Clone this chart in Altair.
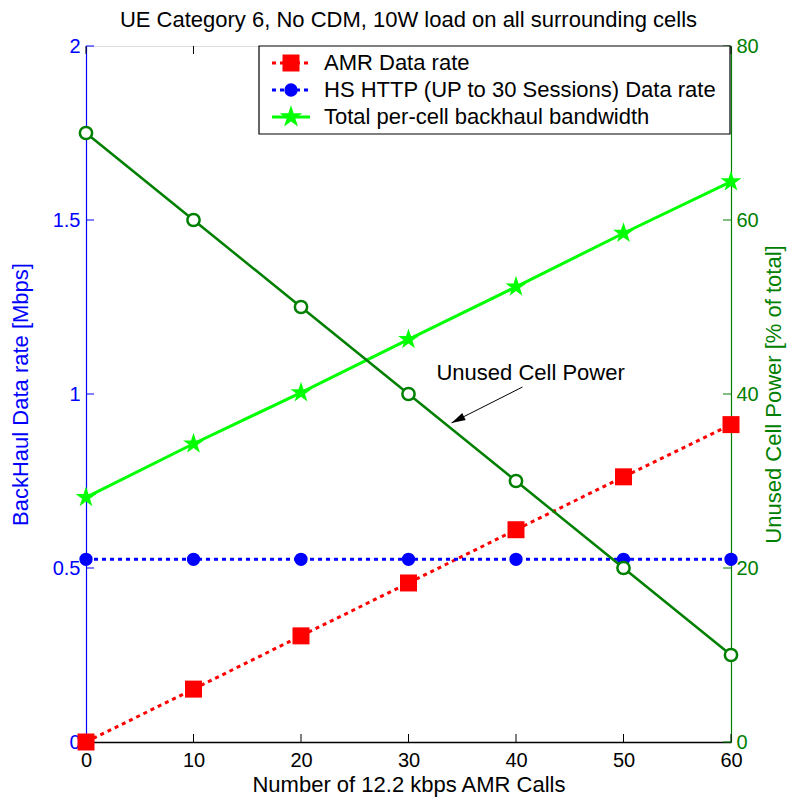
import altair as alt
import pandas as pd

# ---------------- data ----------------
calls = [0, 10, 20, 30, 40, 50, 60]
amr_rate = [0.0, 0.152, 0.305, 0.457, 0.610, 0.762, 0.912]
hs_http_rate = [0.525, 0.525, 0.525, 0.525, 0.525, 0.525, 0.525]
total_bw = [0.703, 0.857, 1.004, 1.157, 1.308, 1.462, 1.610]
unused_power = [70, 60, 50, 40, 30, 20, 10]

x_ticks = [0, 10, 20, 30, 40, 50, 60]
left_ticks = [0, 0.5, 1, 1.5, 2]
right_ticks = [0, 20, 40, 60, 80]

legend_labels = ["AMR Data rate",
                 "HS HTTP (UP to 30 Sessions) Data rate",
                 "Total per-cell backhaul bandwidth"]
title_text = "UE Category 6, No CDM, 10W load on all surrounding cells"
x_title = "Number of 12.2 kbps AMR Calls"
left_title = "BackHaul Data rate [Mbps]"
right_title = "Unused Cell Power [% of total]"
annot_text = "Unused Cell Power"
annot_x, annot_y = [32.6], [1.06]
arrow_x, arrow_y = [40.6], [1.02]
arrow_x2, arrow_y2 = [34.0], [0.917]

# ---------------- style ----------------
FONT = "Liberation Sans"
TXT = 22
W, H = 645, 696
RED, BLUE, LIME, DGREEN = "#ff0000", "#0000ff", "#00ff00", "#008000"
TICK = 8
STAR = ("M0,-1L0.2245,-0.309L0.951,-0.309L0.363,0.118L0.588,0.809L0,0.382"
        "L-0.588,0.809L-0.363,0.118L-0.951,-0.309L-0.2245,-0.309Z")
ARROWHEAD = "M0,0L0.55,2L-0.55,2Z"

def df(xs, ys):
    return pd.DataFrame({"x": xs, "y": ys})

x_axis = alt.Axis(values=x_ticks, title=x_title, orient="bottom", titleFont=FONT, titleFontSize=TXT,
                  titleFontWeight="normal", titleColor="black", titlePadding=4,
                  labelFont=FONT, labelFontSize=20, labelColor="black", labelPadding=8,
                  labelFlush=False, tickSize=0, domainColor="black", domainWidth=1.5,
                  grid=False, labelOverlap=False)
xenc = alt.X("x:Q", scale=alt.Scale(domain=[0, 60], nice=False, zero=False), axis=x_axis)

left_axis = alt.Axis(values=left_ticks, format="~g", orient="left", title=left_title,
                     titleFont=FONT, titleFontSize=TXT, titleFontWeight="normal",
                     titleColor=BLUE, titlePadding=20, labelFont=FONT, labelFontSize=20,
                     labelColor=BLUE, labelPadding=6, tickSize=0, domainColor=BLUE,
                     domainWidth=1.2, grid=False, labelOverlap=False, labelFlush=False)
lyenc = alt.Y("y:Q", scale=alt.Scale(domain=[0, 2], nice=False, zero=True), axis=left_axis)

right_axis = alt.Axis(values=right_ticks, format="d", orient="right", title=right_title,
                      titleFont=FONT, titleFontSize=TXT, titleFontWeight="normal",
                      titleColor=DGREEN, titlePadding=5, titleAngle=270, titleBaseline="top",
                      labelFont=FONT, labelFontSize=20, labelColor=DGREEN, labelPadding=5,
                      tickSize=0, domainColor=DGREEN, domainWidth=1.2, grid=False,
                      labelOverlap=False, labelFlush=False)
ryenc = alt.Y("y:Q", scale=alt.Scale(domain=[0, 80], nice=False, zero=True), axis=right_axis)

# ---------------- left (Mbps) group ----------------
amr_df = df(calls, amr_rate)
hs_df = df(calls, hs_http_rate)
tot_df = df(calls, total_bw)

amr_line = alt.Chart(amr_df).mark_line(color=RED, strokeWidth=3, strokeDash=[4, 4]).encode(x=xenc, y=lyenc)
amr_pts = alt.Chart(amr_df).mark_point(shape="square", filled=True, color=RED, size=289, opacity=1).encode(x=xenc, y=lyenc)
hs_line = alt.Chart(hs_df).mark_line(color=BLUE, strokeWidth=3, strokeDash=[4, 4]).encode(x=xenc, y=lyenc)
hs_pts = alt.Chart(hs_df).mark_point(shape="circle", filled=True, color=BLUE, size=177, opacity=1).encode(x=xenc, y=lyenc)
tot_line = alt.Chart(tot_df).mark_line(color=LIME, strokeWidth=3).encode(x=xenc, y=lyenc)
tot_pts = alt.Chart(tot_df).mark_point(shape=STAR, filled=True, color=LIME, size=480, opacity=1).encode(x=xenc, y=lyenc)

xt_df = pd.DataFrame({"x": x_ticks})
bottom_ticks = alt.Chart(xt_df).mark_rule(color="black", strokeWidth=1).encode(
    x=xenc, y=alt.value(H - TICK), y2=alt.value(H))
top_ticks = alt.Chart(xt_df).mark_rule(color="black", strokeWidth=1).encode(
    x=xenc, y=alt.value(0), y2=alt.value(TICK))
lt_df = pd.DataFrame({"y": left_ticks})
left_tick_marks = alt.Chart(lt_df).mark_rule(color=BLUE, strokeWidth=1).encode(
    y=lyenc, x=alt.value(0), x2=alt.value(TICK))

annot = alt.Chart(df(annot_x, annot_y)).mark_text(
    text=annot_text, font=FONT, fontSize=TXT, align="left", baseline="middle", color="black"
).encode(x=xenc, y=lyenc)
arrow_df = pd.DataFrame({"x": arrow_x, "y": arrow_y, "x2": arrow_x2, "y2": arrow_y2})
arrow_line = alt.Chart(arrow_df).mark_rule(color="black", strokeWidth=1).encode(
    x=xenc, y=lyenc, x2="x2:Q", y2="y2:Q")
arrow_head = alt.Chart(df(arrow_x2, arrow_y2)).mark_point(
    shape=ARROWHEAD, filled=True, color="black", size=196, angle=243, opacity=1
).encode(x=xenc, y=lyenc)

left = alt.layer(bottom_ticks, top_ticks, left_tick_marks,
                 amr_line, amr_pts, hs_line, hs_pts, tot_line, tot_pts,
                 arrow_line, arrow_head, annot)

# ---------------- right (% power) group ----------------
pw_df = df(calls, unused_power)
pw_line = alt.Chart(pw_df).mark_line(color=DGREEN, strokeWidth=2.5).encode(x=xenc, y=ryenc)
pw_pts = alt.Chart(pw_df).mark_point(shape="circle", filled=True, fill="white", stroke=DGREEN,
                                     strokeWidth=2.5, size=150, opacity=1).encode(x=xenc, y=ryenc)
rt_df = pd.DataFrame({"y": right_ticks})
right_tick_marks = alt.Chart(rt_df).mark_rule(color=DGREEN, strokeWidth=1).encode(
    y=ryenc, x=alt.value(W - TICK), x2=alt.value(W))

# manual legend and title (layout in pixels)
one = pd.DataFrame({"k": [0]})
LX0, LX1, LY0, LY1 = 173, 644, 0, 88
rows = [17, 44, 71]
SX0, SX1, SXM, TX = 186, 224, 205, 238
leg_box = alt.Chart(one).mark_rect(fill="white", stroke="black", strokeWidth=1.2).encode(
    x=alt.value(LX0), x2=alt.value(LX1), y=alt.value(LY0), y2=alt.value(LY1))
leg_layers = [leg_box]
styles = [
    dict(color=RED, dash=[4, 4], shape="square", size=289),
    dict(color=BLUE, dash=[4, 4], shape="circle", size=177),
    dict(color=LIME, dash=None, shape=STAR, size=560),
]
for lab, ry, st in zip(legend_labels, rows, styles):
    rule_kw = dict(color=st["color"], strokeWidth=3)
    if st["dash"]:
        rule_kw["strokeDash"] = st["dash"]
    leg_layers.append(alt.Chart(one).mark_rule(**rule_kw).encode(
        x=alt.value(SX0), x2=alt.value(SX1), y=alt.value(ry)))
    leg_layers.append(alt.Chart(one).mark_point(shape=st["shape"], filled=True, color=st["color"],
                                                size=st["size"], opacity=1).encode(
        x=alt.value(SXM), y=alt.value(ry)))
    leg_layers.append(alt.Chart(one).mark_text(text=lab, font=FONT, fontSize=TXT, align="left",
                                               baseline="middle", color="black").encode(
        x=alt.value(TX), y=alt.value(ry)))

title_mark = alt.Chart(one).mark_text(text=title_text, font=FONT, fontSize=TXT, align="center",
                                      baseline="alphabetic", color="black").encode(
    x=alt.value(W / 2), y=alt.value(-19))

right = alt.layer(pw_line, pw_pts, right_tick_marks, *leg_layers, title_mark)

chart = alt.layer(left, right).resolve_scale(y="independent").properties(
    width=W, height=H,
    autosize=alt.AutoSizeParams(type="none"),
    padding={"left": 86, "top": 46, "right": 56, "bottom": 59},
).configure_view(stroke="black", strokeWidth=1.2).configure(background="white")

chart.save("out.html", embed_options={"renderer": "svg", "actions": False})
